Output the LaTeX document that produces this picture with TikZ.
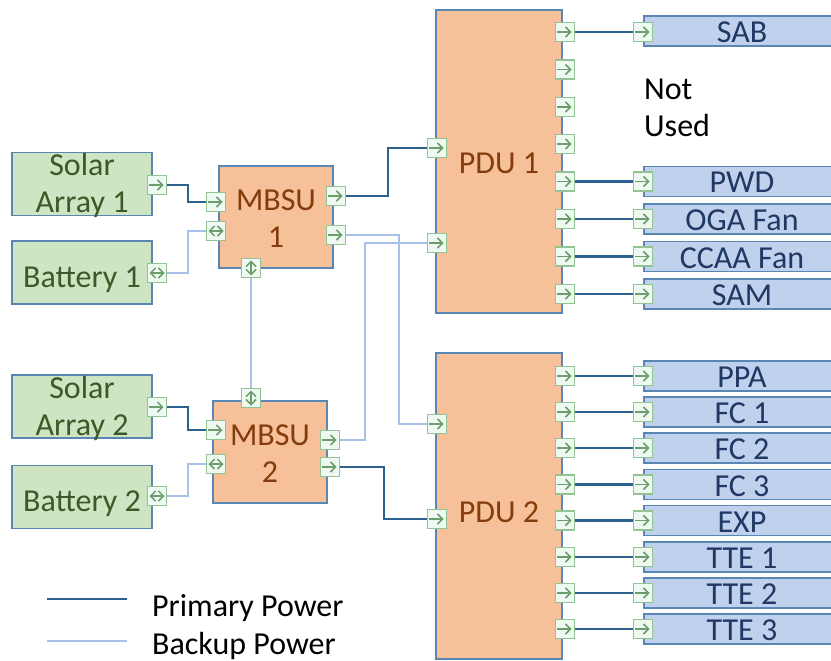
\documentclass[tikz,border=0pt]{standalone}
\usepackage{fontspec}
\setmainfont{Carlito}
\usetikzlibrary{arrows.meta}
\definecolor{boxline}{HTML}{5A86B4}
\definecolor{srcfill}{HTML}{CFE4C3}
\definecolor{srctext}{HTML}{3A5A27}
\definecolor{hubfill}{HTML}{F6C199}
\definecolor{hubtext}{HTML}{843C0C}
\definecolor{loadfill}{HTML}{BFD1EC}
\definecolor{loadtext}{HTML}{1F3864}
\definecolor{portfill}{HTML}{EEF9F2}
\definecolor{portline}{HTML}{93C393}
\definecolor{portarr}{HTML}{6B9E6B}
\definecolor{primcol}{HTML}{2D6190}
\definecolor{backcol}{HTML}{A8C0EA}
\tikzset{
  bigfont/.style={font=\fontsize{32}{37}\selectfont},
  block/.style={draw=boxline, line width=1.2pt, bigfont, align=center, inner sep=0pt},
  src/.style={block, fill=srcfill, text=srctext, minimum width=140pt, minimum height=63pt,
    text height=29pt, text depth=0pt},
  twoline/.style={text height=57pt, text depth=0pt},
  hub/.style={block, fill=hubfill, text=hubtext, minimum width=114pt, minimum height=102pt,
    text height=60pt, text depth=0pt},
  pdu/.style={block, fill=hubfill, text=hubtext, minimum width=126pt, minimum height=303pt,
    text height=23pt, text depth=0pt},
  load/.style={block, fill=loadfill, text=loadtext, minimum width=196pt, minimum height=30pt,
    text height=23pt, text depth=0pt},
  port/.style={draw=portline, fill=portfill, line width=1.2pt, minimum size=19pt, inner sep=0pt},
  barb/.tip={Straight Barb[length=5pt,width=10pt]},
  portarrow/.style={draw=portarr, line width=1.5pt},
  pr/.style={port, path picture={\draw[portarrow, -barb]
    ([xshift=1pt]path picture bounding box.west) -- ([xshift=-3pt]path picture bounding box.east);}},
  plr/.style={port, path picture={\draw[portarrow, barb-barb]
    ([xshift=2pt]path picture bounding box.west) -- ([xshift=-2pt]path picture bounding box.east);}},
  pud/.style={port, path picture={\draw[portarrow, barb-barb]
    ([yshift=-2pt]path picture bounding box.north) -- ([yshift=2pt]path picture bounding box.south);}},
  primary/.style={draw=primcol, line width=2.4pt},
  backup/.style={draw=backcol, line width=1.8pt}
}
\begin{document}
\begin{tikzpicture}[x=1pt, y=-1pt]
\useasboundingbox (0,0) rectangle (831,661);
 % sources and switching units
 \node[src, twoline] (sa1) at (82,184) {Solar\\Array 1};
 \node[src] (bat1) at (82,272.5) {Battery 1};
 \node[src, twoline] (sa2) at (82,406.5) {Solar\\Array 2};
 \node[src] (bat2) at (82,497) {Battery 2};
 \node[hub] (mbsu1) at (276,217) {MBSU\\1};
 \node[hub] (mbsu2) at (270,452) {MBSU\\2};
 \node[pdu] (pdu1) at (499,161.5) {PDU 1};
 \node[pdu, minimum height=306pt, text height=32pt] (pdu2) at (499,506) {PDU 2};
 % loads
 \begin{scope}[every node/.style={load}]
  \node (sab) at (742,31) {SAB};
  \node (pwd) at (742,181.5) {PWD};
  \node (oga) at (742,219) {OGA Fan};
  \node (ccaa) at (742,256.5) {CCAA Fan};
  \node (sam) at (742,294) {SAM};
  \node (ppa) at (742,376) {PPA};
  \node (fc1) at (742,412) {FC 1};
  \node (fc2) at (742,448) {FC 2};
  \node (fc3) at (742,484.5) {FC 3};
  \node (exp) at (742,520.5) {EXP};
  \node (tte1) at (742,557) {TTE 1};
  \node (tte2) at (742,593) {TTE 2};
  \node (tte3) at (742,629) {TTE 3};
 \end{scope}
 \node[bigfont, align=left, anchor=west, inner sep=0pt] (unused) at (644,108) {Not\\Used};
 % ports
 \node[pr] (sa1o) at (157,185) {};
 \node[plr] (bat1o) at (157,273) {};
 \node[pr] (sa2o) at (157,407) {};
 \node[plr] (bat2o) at (157,496) {};
 \node[pr] (m1in) at (216,202) {};
 \node[plr] (m1bat) at (216,231) {};
 \node[pud] (m1dn) at (251,268) {};
 \node[pr] (m1o1) at (336,196) {};
 \node[pr] (m1o2) at (336,235) {};
 \node[pud] (m2up) at (251,398) {};
 \node[pr] (m2in) at (216,430) {};
 \node[plr] (m2bat) at (216,464) {};
 \node[pr] (m2o1) at (330,440) {};
 \node[pr] (m2o2) at (330,467) {};
 \node[pr] (p1in1) at (437,148) {};
 \node[pr] (p1in2) at (437,243) {};
 \node[pr] (p2in1) at (437,424) {};
 \node[pr] (p2in2) at (437,519) {};
 \begin{scope}[every node/.style={pr}]
  \node (p1a) at (565,32) {};
  \node (p1b) at (565,69.5) {};
  \node (p1c) at (565,107) {};
  \node (p1d) at (565,144) {};
  \node (p1e) at (565,181.5) {};
  \node (p1f) at (565,219) {};
  \node (p1g) at (565,256.5) {};
  \node (p1h) at (565,294) {};
  \node (p2a) at (565,376) {};
  \node (p2b) at (565,412) {};
  \node (p2c) at (565,448) {};
  \node (p2d) at (565,484.5) {};
  \node (p2e) at (565,520.5) {};
  \node (p2f) at (565,557) {};
  \node (p2g) at (565,593) {};
  \node (p2h) at (565,629) {};
  \node (sabi) at (643,32) {};
  \node (pwdi) at (643,181.5) {};
  \node (ogai) at (643,219) {};
  \node (ccaai) at (643,256.5) {};
  \node (sami) at (643,294) {};
  \node (ppai) at (643,376) {};
  \node (fc1i) at (643,412) {};
  \node (fc2i) at (643,448) {};
  \node (fc3i) at (643,484.5) {};
  \node (expi) at (643,520.5) {};
  \node (tte1i) at (643,557) {};
  \node (tte2i) at (643,593) {};
  \node (tte3i) at (643,629) {};
 \end{scope}
 % power lines
 \draw[primary] (sa1o.east) -- ++(21,0) |- (m1in.west);
 \draw[backup] (bat1o.east) -- ++(21,0) |- (m1bat.west);
 \draw[primary] (sa2o.east) -- ++(21,0) |- (m2in.west);
 \draw[backup] (bat2o.east) -- ++(21,0) |- (m2bat.west);
 \draw[backup] (m1dn) -- (m2up);
 \draw[primary] (m1o1.east) -- ++(42,0) |- (p1in1.west);
 \draw[backup] (m1o2.east) -- ++(53,0) |- (p2in1.west);
 \draw[backup] (m2o1.east) -- ++(25,0) |- (p1in2.west);
 \draw[primary] (m2o2.east) -- ++(44,0) |- (p2in2.west);
 \draw[primary] (p1a) -- (sabi);
 \draw[primary] (p1e) -- (pwdi);
 \draw[primary] (p1f) -- (ogai);
 \draw[primary] (p1g) -- (ccaai);
 \draw[primary] (p1h) -- (sami);
 \draw[primary] (p2a) -- (ppai);
 \draw[primary] (p2b) -- (fc1i);
 \draw[primary] (p2c) -- (fc2i);
 \draw[primary] (p2d) -- (fc3i);
 \draw[primary] (p2e) -- (expi);
 \draw[primary] (p2f) -- (tte1i);
 \draw[primary] (p2g) -- (tte2i);
 \draw[primary] (p2h) -- (tte3i);
 % legend
 \coordinate (pri1) at (47,599);
 \coordinate (pri2) at (127,599);
 \coordinate (bak1) at (47,641);
 \coordinate (bak2) at (127,641);
 \draw[primary] (pri1) -- (pri2);
 \draw[backup] (bak1) -- (bak2);
 \node[bigfont, anchor=base west, inner sep=0pt] (pritext) at (152,616) {Primary Power};
 \node[bigfont, anchor=base west, inner sep=0pt] (baktext) at (152,654) {Backup Power};
\end{tikzpicture}
\end{document}
